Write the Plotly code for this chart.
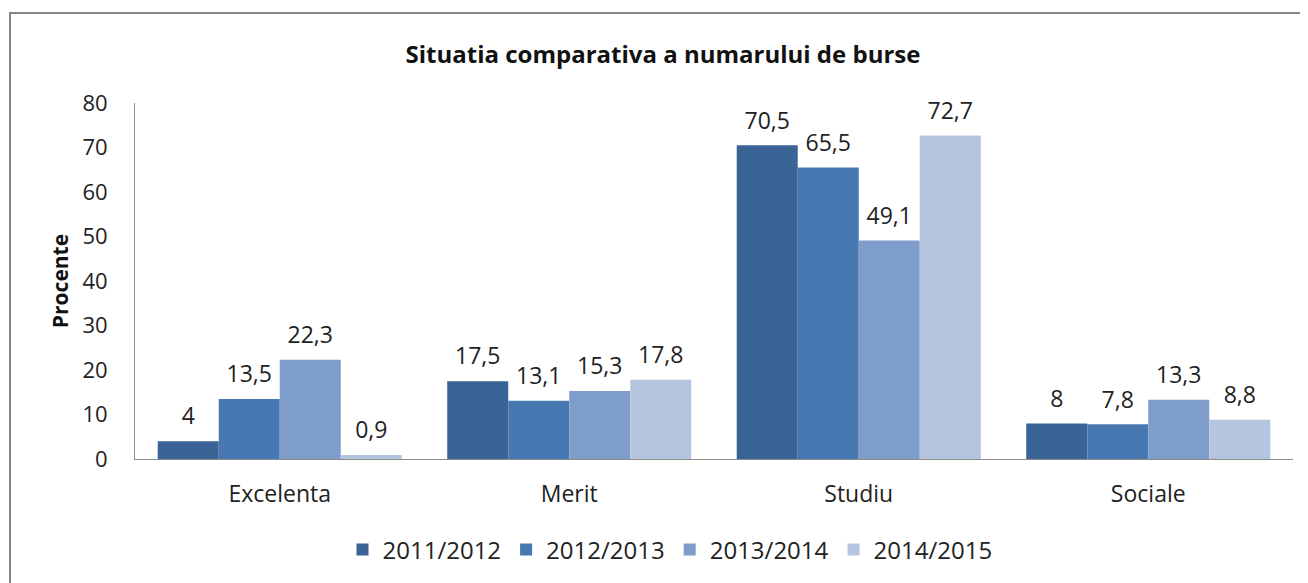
import plotly.graph_objects as go

categories = ["Excelenta", "Merit", "Studiu", "Sociale"]
series_names = ["2011/2012", "2012/2013", "2013/2014", "2014/2015"]
v2011 = [4, 17.5, 70.5, 8]
v2012 = [13.5, 13.1, 65.5, 7.8]
v2013 = [22.3, 15.3, 49.1, 13.3]
v2014 = [0.9, 17.8, 72.7, 8.8]
values = [v2011, v2012, v2013, v2014]
colors = ["#3B6496", "#4878B2", "#7F9DCA", "#B6C5DF"]

W, H = 1308, 583
# page is drawn with an 8px offset; figure coords = screen - 8
L, R, T, B = 127, 23, 95, 132
pw, ph = W - L - R, H - T - B
FONT = "Open Sans"
GAP = 0.157

fig = go.Figure()
for name, vals, c in zip(series_names, values, colors):
    fig.add_trace(go.Bar(
        x=categories, y=vals, name=name, marker=dict(color=c, line=dict(width=0)),
    ))
# value labels, grouped like the bars
for name, vals in zip(series_names, values):
    fig.add_trace(go.Scatter(
        x=categories, y=vals, mode="markers+text", showlegend=False, hoverinfo="skip",
        marker=dict(size=16, opacity=0),
        text=[("%g" % v).replace(".", ",") for v in vals],
        textposition="top center", cliponaxis=False,
        textfont=dict(size=23, color="#222222", family=FONT),
    ))

fig.update_layout(
    width=W, height=H,
    margin=dict(l=L, r=R, t=T, b=B, autoexpand=False),
    paper_bgcolor="white", plot_bgcolor="white",
    barmode="group", bargap=GAP, bargroupgap=0,
    scattermode="group", scattergap=GAP,
    title=dict(text="<b>Situatia comparativa a numarului de burse</b>",
               x=655 / W, xanchor="center", y=1 - 47 / H, yanchor="middle",
               font=dict(size=24, color="#111111", family=FONT)),
    font=dict(family=FONT, color="#222222"),
    showlegend=True,
    legend=dict(orientation="h", x=(662 - L) / pw, xanchor="center",
                y=-(542 - (T + ph)) / ph, yanchor="middle",
                font=dict(size=24, color="#222222"),
                traceorder="normal", itemwidth=30),
    xaxis=dict(showline=True, linecolor="#8C8C8C", linewidth=1, ticks="",
               tickfont=dict(size=23, color="#222222"), showgrid=False,
               ticklabelstandoff=14),
    yaxis=dict(range=[0, 80], dtick=10, showline=True, linecolor="#8C8C8C", linewidth=1,
               ticks="", showgrid=False, zeroline=False,
               tickfont=dict(size=22, color="#222222"), ticklabelstandoff=22,
               title=dict(text="<b>Procente</b>", font=dict(size=21, color="#111111"), standoff=8)),
    shapes=[dict(type="rect", xref="paper", yref="paper",
                 x0=(2 - L) / pw, x1=(1330 - L) / pw,
                 y0=-(600 - (T + ph)) / ph, y1=(T + ph - 5) / ph,
                 line=dict(color="#868686", width=2), fillcolor="rgba(0,0,0,0)")],
)

fig.write_html("out.html")
